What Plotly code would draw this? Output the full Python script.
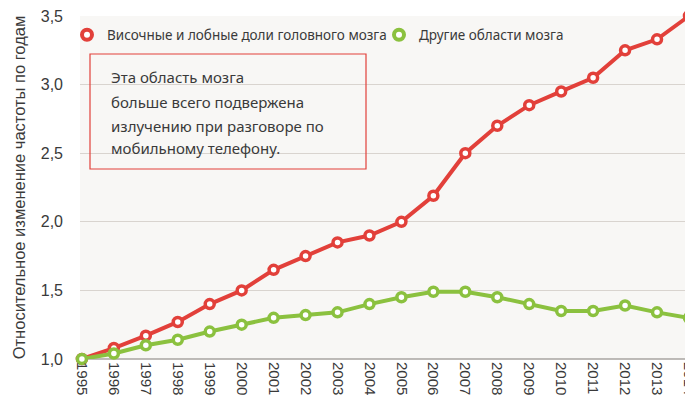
import plotly.graph_objects as go

years = list(range(1995, 2015))
temporal_frontal = [1.00, 1.08, 1.17, 1.27, 1.40, 1.50, 1.65, 1.75, 1.85, 1.90,
                    2.00, 2.19, 2.50, 2.70, 2.85, 2.95, 3.05, 3.25, 3.33, 3.50]
other_areas = [1.00, 1.04, 1.10, 1.14, 1.20, 1.25, 1.30, 1.32, 1.34, 1.40,
               1.45, 1.49, 1.49, 1.45, 1.40, 1.35, 1.35, 1.39, 1.34, 1.30]
series_names = ["Височные и лобные доли головного мозга", "Другие области мозга"]
note_lines = ["Эта область мозга", "больше всего подвержена",
              "излучению при разговоре по", "мобильному телефону."]
y_title = "Относительное изменение частоты по годам"
y_ticks = [1.0, 1.5, 2.0, 2.5, 3.0, 3.5]

RED = "#e2403a"
GREEN = "#8bc13f"
TXT = "#3a3a3a"

W, H = 692, 404
L, R, T, B = 80, 0, 16, 45
pw, ph = W - L - R, H - T - B
x0 = 1994.94
x1 = x0 + pw / 31.95

def px_x(p):
    return (p - L) / pw

def px_y(p):
    return (H - B - p) / ph

fig = go.Figure()
for name, vals, col, lg in [(series_names[0], temporal_frontal, RED, "legend"),
                            (series_names[1], other_areas, GREEN, "legend2")]:
    fig.add_trace(go.Scatter(
        x=years, y=vals, name=name, mode="lines+markers",
        line=dict(color=col, width=4),
        marker=dict(symbol="circle", size=9, color="white",
                    line=dict(color=col, width=3.5)),
        cliponaxis=False, showlegend=False, legendgroup=name,
    ))
    # legend entry (ring only, like the reference legend)
    fig.add_trace(go.Scatter(
        x=[None], y=[None], name=name, mode="markers", legend=lg,
        marker=dict(symbol="circle", size=10, color="white",
                    line=dict(color=col, width=4)),
        showlegend=True, legendgroup=name,
    ))

# annotation box
fig.add_shape(type="rect", xref="paper", yref="paper",
              x0=px_x(90), x1=px_x(366), y0=px_y(169), y1=px_y(54),
              line=dict(color=RED, width=1.2), fillcolor="rgba(0,0,0,0)")
for line_txt, yc in zip(note_lines, [77, 102, 126, 148]):
    fig.add_annotation(xref="paper", yref="paper", x=px_x(109), y=px_y(yc),
                       xanchor="left", yanchor="middle", showarrow=False,
                       text=line_txt,
                       font=dict(family="Noto Sans", size=15, color=TXT))

leg_common = dict(orientation="h", yanchor="middle", xanchor="left",
                  bgcolor="rgba(0,0,0,0)", itemwidth=30,
                  font=dict(family="Noto Sans", size=13.5, color=TXT))
fig.update_layout(
    width=W, height=H, autosize=False,
    margin=dict(l=L, r=R, t=T, b=B, pad=0, autoexpand=False),
    paper_bgcolor="white", plot_bgcolor="#f8f7f5",
    separators=", ",
    showlegend=True,
    legend=dict(x=px_x(67), y=px_y(35), **leg_common),
    legend2=dict(x=px_x(379), y=px_y(35), **leg_common),
    xaxis=dict(range=[x0, x1], tickmode="array", tickvals=years,
               ticktext=[str(y) for y in years], tickangle=90,
               showgrid=False, zeroline=False, showline=False,
               automargin=False,
               tickfont=dict(family="Liberation Sans", size=15, color=TXT),
               ticks="", ticklabelstandoff=2, ticklabeloverflow="allow"),
    yaxis=dict(range=[1.0, 3.5], tickmode="array", tickvals=y_ticks,
               tickformat=".1f", automargin=False,
               showgrid=True, gridcolor="#d9d4cf", gridwidth=1,
               zeroline=False, showline=False,
               tickfont=dict(family="Liberation Sans", size=16, color=TXT),
               ticks="", ticklabelstandoff=16,
               title=dict(text=y_title, standoff=10,
                          font=dict(family="Liberation Sans", size=16.5, color=TXT))),
)
# bottom axis line
fig.add_shape(type="line", xref="paper", yref="paper", x0=0, x1=1, y0=0, y1=0,
              line=dict(color="#a9a5a1", width=1.5), layer="below")

fig.write_html("out.html",
               post_script="document.body.style.overflow='hidden';document.documentElement.style.overflow='hidden';")
